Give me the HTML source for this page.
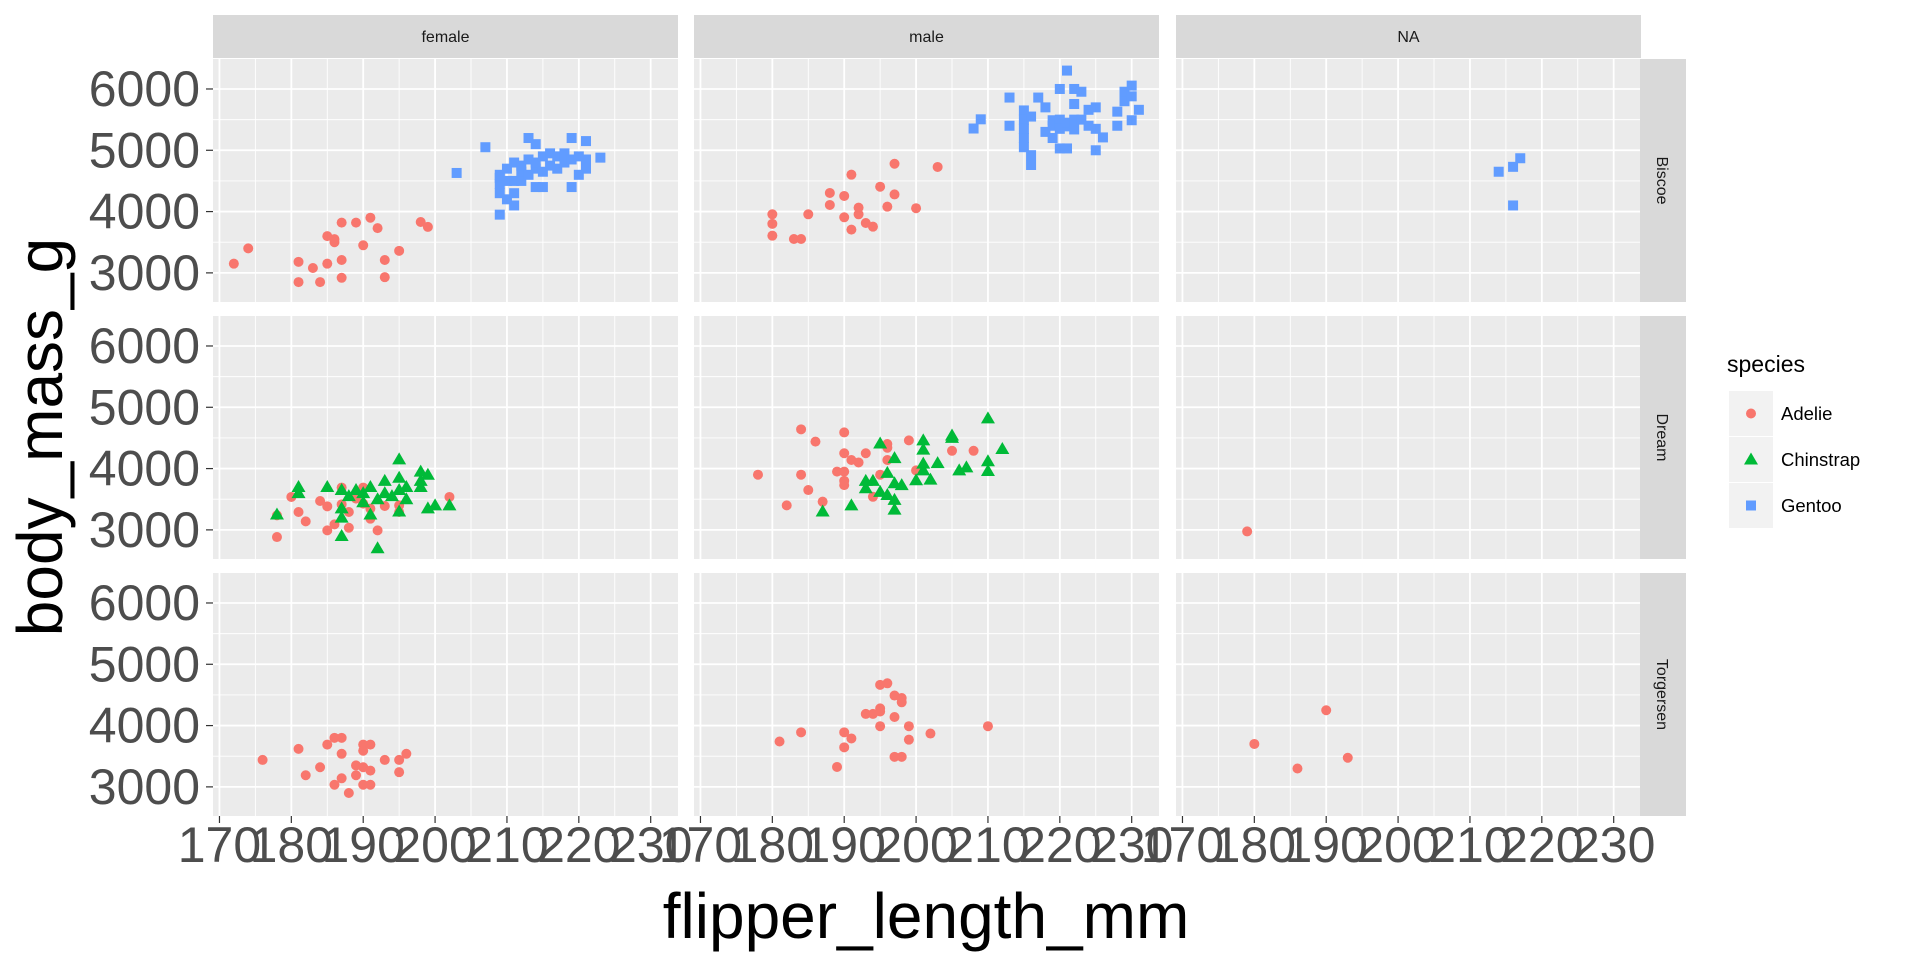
<!DOCTYPE html>
<html><head><meta charset="utf-8">
<style>
html,body{margin:0;padding:0;background:#fff;}
svg{display:block;font-family:"Liberation Sans",Arial,sans-serif;}
</style></head>
<body>
<svg id="chart" width="1920" height="960" viewBox="0 0 1920 960" xmlns="http://www.w3.org/2000/svg"></svg>
<script>
const colNames = ["female","male","NA"];
const rowNames = ["Biscoe","Dream","Torgersen"];
const xTicks = [170,180,190,200,210,220,230];
const yTicks = [3000,4000,5000,6000];
const speciesNames = ["Adelie","Chinstrap","Gentoo"];

const bisFemAdelie = [[172,3150],[174,3400],[181,3180],[181,2850],[183,3080],[184,2850],[185,3150],[185,3600],[186,3550],[186,3500],[187,3820],[187,3210],[187,2920],[189,3820],[190,3450],[191,3900],[192,3730],[193,3210],[193,2930],[195,3360],[198,3830],[199,3750]];
const bisFemGentoo = [[203,4630],[207,5050],[209,3950],[209,4300],[209,4450],[209,4550],[209,4600],[210,4200],[210,4500],[210,4700],[211,4100],[211,4300],[211,4500],[211,4800],[212,4500],[212,4650],[212,4750],[213,5200],[213,4600],[213,4850],[214,5100],[214,4400],[214,4700],[214,4800],[215,4400],[215,4650],[215,4900],[216,4750],[216,4950],[217,4700],[217,4900],[218,4800],[218,4950],[219,5200],[219,4400],[219,4850],[220,4600],[220,4900],[221,5150],[221,4700],[221,4850],[223,4880]];
const bisMaleAdelie = [[180,3956],[180,3800],[180,3607],[183,3553],[184,3553],[185,3956],[188,4304],[188,4108],[190,4255],[190,3907],[191,4602],[191,3706],[192,4064],[192,3956],[193,3814],[194,3754],[195,4406],[196,4080],[197,4780],[197,4280],[200,4055],[203,4728]];
const bisMaleGentoo = [[208,5355],[209,5505],[213,5860],[213,5400],[215,5650],[215,5500],[215,5350],[215,5200],[215,5050],[216,4920],[216,4760],[216,5550],[217,5860],[218,5700],[218,5300],[219,5200],[219,5490],[219,5400],[220,6000],[220,5500],[220,5030],[220,5350],[221,6300],[221,5390],[221,5030],[221,5450],[222,6000],[222,5755],[222,5340],[222,5500],[223,5955],[223,5500],[224,5660],[224,5400],[225,5700],[225,5350],[225,5000],[226,5210],[228,5630],[228,5400],[229,5955],[229,5800],[230,6055],[230,5880],[230,5490],[231,5660]];
const bisNaGentoo = [[214,4650],[216,4730],[217,4870],[216,4100]];
const dreFemAdelie = [[178,3237],[178,2883],[180,3537],[181,3292],[182,3139],[184,3471],[185,3384],[185,2992],[186,3090],[187,3690],[187,3417],[188,3292],[188,3035],[189,3510],[190,3690],[190,3428],[191,3346],[191,3183],[192,2992],[193,3390],[195,3400],[195,3292],[202,3537]];
const dreFemChinstrap = [[178,3250],[181,3700],[181,3600],[185,3700],[187,3650],[187,3350],[187,3200],[187,2900],[188,3550],[189,3650],[190,3600],[190,3450],[191,3700],[191,3250],[192,3500],[193,3800],[193,3600],[194,3550],[195,4150],[195,3850],[195,3650],[195,3300],[196,3700],[196,3500],[198,3950],[198,3800],[198,3700],[199,3900],[199,3350],[200,3400],[202,3400],[192,2700]];
const dreMaleAdelie = [[178,3900],[182,3400],[184,4640],[184,3900],[185,3650],[186,4440],[187,3460],[189,3950],[190,4590],[190,4250],[190,3950],[190,3800],[190,3730],[191,4140],[192,4100],[193,4250],[194,3540],[195,3900],[196,4400],[196,4340],[196,4140],[199,4460],[200,3970],[205,4290],[208,4290]];
const dreMaleChinstrap = [[187,3300],[191,3400],[193,3800],[193,3680],[194,3800],[195,4410],[195,3620],[196,3930],[196,3570],[197,4170],[197,3760],[197,3490],[197,3330],[198,3730],[200,3810],[201,4460],[201,4310],[201,4080],[201,3970],[202,3820],[203,4090],[205,4540],[205,4500],[206,3970],[207,4020],[210,4820],[210,4120],[210,3960],[212,4320]];
const dreNaAdelie = [[179,2975]];
const torFemAdelie = [[176,3440],[181,3620],[182,3190],[184,3320],[185,3690],[186,3800],[187,3800],[186,3035],[187,3540],[187,3140],[188,2900],[189,3350],[189,3190],[190,3690],[190,3590],[190,3320],[190,3035],[191,3690],[191,3265],[191,3035],[193,3440],[195,3440],[195,3240],[196,3540]];
const torMaleAdelie = [[181,3740],[184,3890],[189,3325],[190,3890],[190,3645],[191,3790],[193,4190],[194,4190],[195,4665],[195,4280],[195,4230],[195,3990],[196,4690],[197,4490],[197,4140],[197,3490],[198,4450],[198,4380],[198,3490],[199,3990],[199,3770],[202,3870],[210,3990]];
const torNaAdelie = [[180,3700],[186,3300],[190,4250],[193,3475]];

const facets = [
  {r:0,c:0,sets:[["Adelie",bisFemAdelie],["Gentoo",bisFemGentoo]]},
  {r:0,c:1,sets:[["Adelie",bisMaleAdelie],["Gentoo",bisMaleGentoo]]},
  {r:0,c:2,sets:[["Gentoo",bisNaGentoo]]},
  {r:1,c:0,sets:[["Adelie",dreFemAdelie],["Chinstrap",dreFemChinstrap]]},
  {r:1,c:1,sets:[["Adelie",dreMaleAdelie],["Chinstrap",dreMaleChinstrap]]},
  {r:1,c:2,sets:[["Adelie",dreNaAdelie]]},
  {r:2,c:0,sets:[["Adelie",torFemAdelie]]},
  {r:2,c:1,sets:[["Adelie",torMaleAdelie]]},
  {r:2,c:2,sets:[["Adelie",torNaAdelie]]}
];

const NS="http://www.w3.org/2000/svg";
const svg=document.getElementById('chart');
const colors={Adelie:"#F8766D",Chinstrap:"#00BA38",Gentoo:"#619CFF"};
const colLeft=[213,694,1176], rowTop=[59,316,573], PW=465, PH=243;
const xMin=169.1, xMax=233.8, yMin=2525, yMax=6489;
function sx(c,v){return colLeft[c]+(v-xMin)/(xMax-xMin)*PW;}
function sy(r,v){return rowTop[r]+(yMax-v)/(yMax-yMin)*PH;}
function mk(tag,attrs,parent){const e=document.createElementNS(NS,tag);for(const k in attrs)e.setAttribute(k,attrs[k]);(parent||svg).appendChild(e);return e;}

for(let r=0;r<3;r++)for(let c=0;c<3;c++){
  const g=mk('g',{});
  
  
  mk('rect',{x:colLeft[c],y:rowTop[r],width:PW,height:PH,fill:'#EBEBEB'},g);
  for(let v=xTicks[0]-5;v<=xTicks[xTicks.length-1]+5;v+=10){const X=sx(c,v);if(X>colLeft[c]&&X<colLeft[c]+PW)mk('line',{x1:X,x2:X,y1:rowTop[r],y2:rowTop[r]+PH,stroke:'#fff','stroke-width':0.9},g);}
  for(let v=2500;v<=6500;v+=1000){const Y=sy(r,v);if(Y>rowTop[r]&&Y<rowTop[r]+PH)mk('line',{x1:colLeft[c],x2:colLeft[c]+PW,y1:Y,y2:Y,stroke:'#fff','stroke-width':0.9},g);}
  xTicks.forEach(v=>{const X=sx(c,v);mk('line',{x1:X,x2:X,y1:rowTop[r],y2:rowTop[r]+PH,stroke:'#fff','stroke-width':1.8},g);});
  yTicks.forEach(v=>{const Y=sy(r,v);mk('line',{x1:colLeft[c],x2:colLeft[c]+PW,y1:Y,y2:Y,stroke:'#fff','stroke-width':1.8},g);});
}
colNames.forEach((n,c)=>{
  const g=mk('g',{});
  
  
  mk('rect',{x:colLeft[c],y:15,width:PW,height:43,fill:'#D9D9D9'},g);
  const t=mk('text',{x:colLeft[c]+PW/2,y:42,'text-anchor':'middle','font-size':16,fill:'#1A1A1A'},g);t.textContent=n;
});
rowNames.forEach((n,r)=>{
  const g=mk('g',{});
  
  
  mk('rect',{x:1640,y:rowTop[r],width:46,height:PH,fill:'#D9D9D9'},g);
  const cx=1657,cy=rowTop[r]+PH/2;
  const t=mk('text',{x:cx,y:cy,'text-anchor':'middle','font-size':16,fill:'#1A1A1A',transform:`rotate(90 ${cx} ${cy})`},g);t.textContent=n;
});
for(let r=0;r<3;r++){
  yTicks.forEach(v=>{
    const Y=sy(r,v);
    mk('line',{x1:206,x2:213,y1:Y,y2:Y,stroke:'#333','stroke-width':1.2});
    const t=mk('text',{x:200,y:Y+17,'text-anchor':'end','font-size':50,fill:'#4D4D4D'});
    
    
    t.textContent=v;
  });
}
for(let c=0;c<3;c++){
  xTicks.forEach(v=>{
    const X=sx(c,v);
    mk('line',{x1:X,x2:X,y1:816,y2:823,stroke:'#333','stroke-width':1.2});
    const t=mk('text',{x:X,y:862,'text-anchor':'middle','font-size':50,fill:'#4D4D4D'});
    
    
    t.textContent=v;
  });
}
const xt=mk('text',{x:926,y:938,'text-anchor':'middle','font-size':64,fill:'#000'});


xt.textContent='flipper_length_mm';
const yt=mk('text',{x:62,y:437,'text-anchor':'middle','font-size':64,fill:'#000',transform:'rotate(-90 62 437)'});


yt.textContent='body_mass_g';

function drawMark(sp,X,Y,parent){
  if(sp==='Adelie')return mk('circle',{cx:X,cy:Y,r:5,fill:colors[sp]},parent);
  if(sp==='Gentoo')return mk('rect',{x:X-5,y:Y-5,width:10,height:10,fill:colors[sp]},parent);
  return mk('polygon',{points:`${X},${Y-7} ${X-7},${Y+5} ${X+7},${Y+5}`,fill:colors[sp]},parent);
}
facets.forEach(f=>{
  f.sets.forEach(([sp,pts])=>{
    const g=mk('g',{});
    
    
    pts.forEach(p=>{
      const m=drawMark(sp,sx(f.c,p[0]),sy(f.r,p[1]),g);
      
      
    });
  });
});
const lg=mk('g',{});


const lt=mk('text',{x:1727,y:372,'font-size':23,fill:'#000'},lg);lt.textContent='species';
speciesNames.forEach((sp,i)=>{
  const e=mk('g',{},lg);
  
  
  const y0=391+i*46;
  mk('rect',{x:1729,y:y0,width:44,height:45,fill:'#F2F2F2'},e);
  drawMark(sp,1751,y0+22.5,e);
  const t=mk('text',{x:1781,y:y0+29,'font-size':18.5,fill:'#000'},e);t.textContent=sp;
});
</script>
</body></html>
